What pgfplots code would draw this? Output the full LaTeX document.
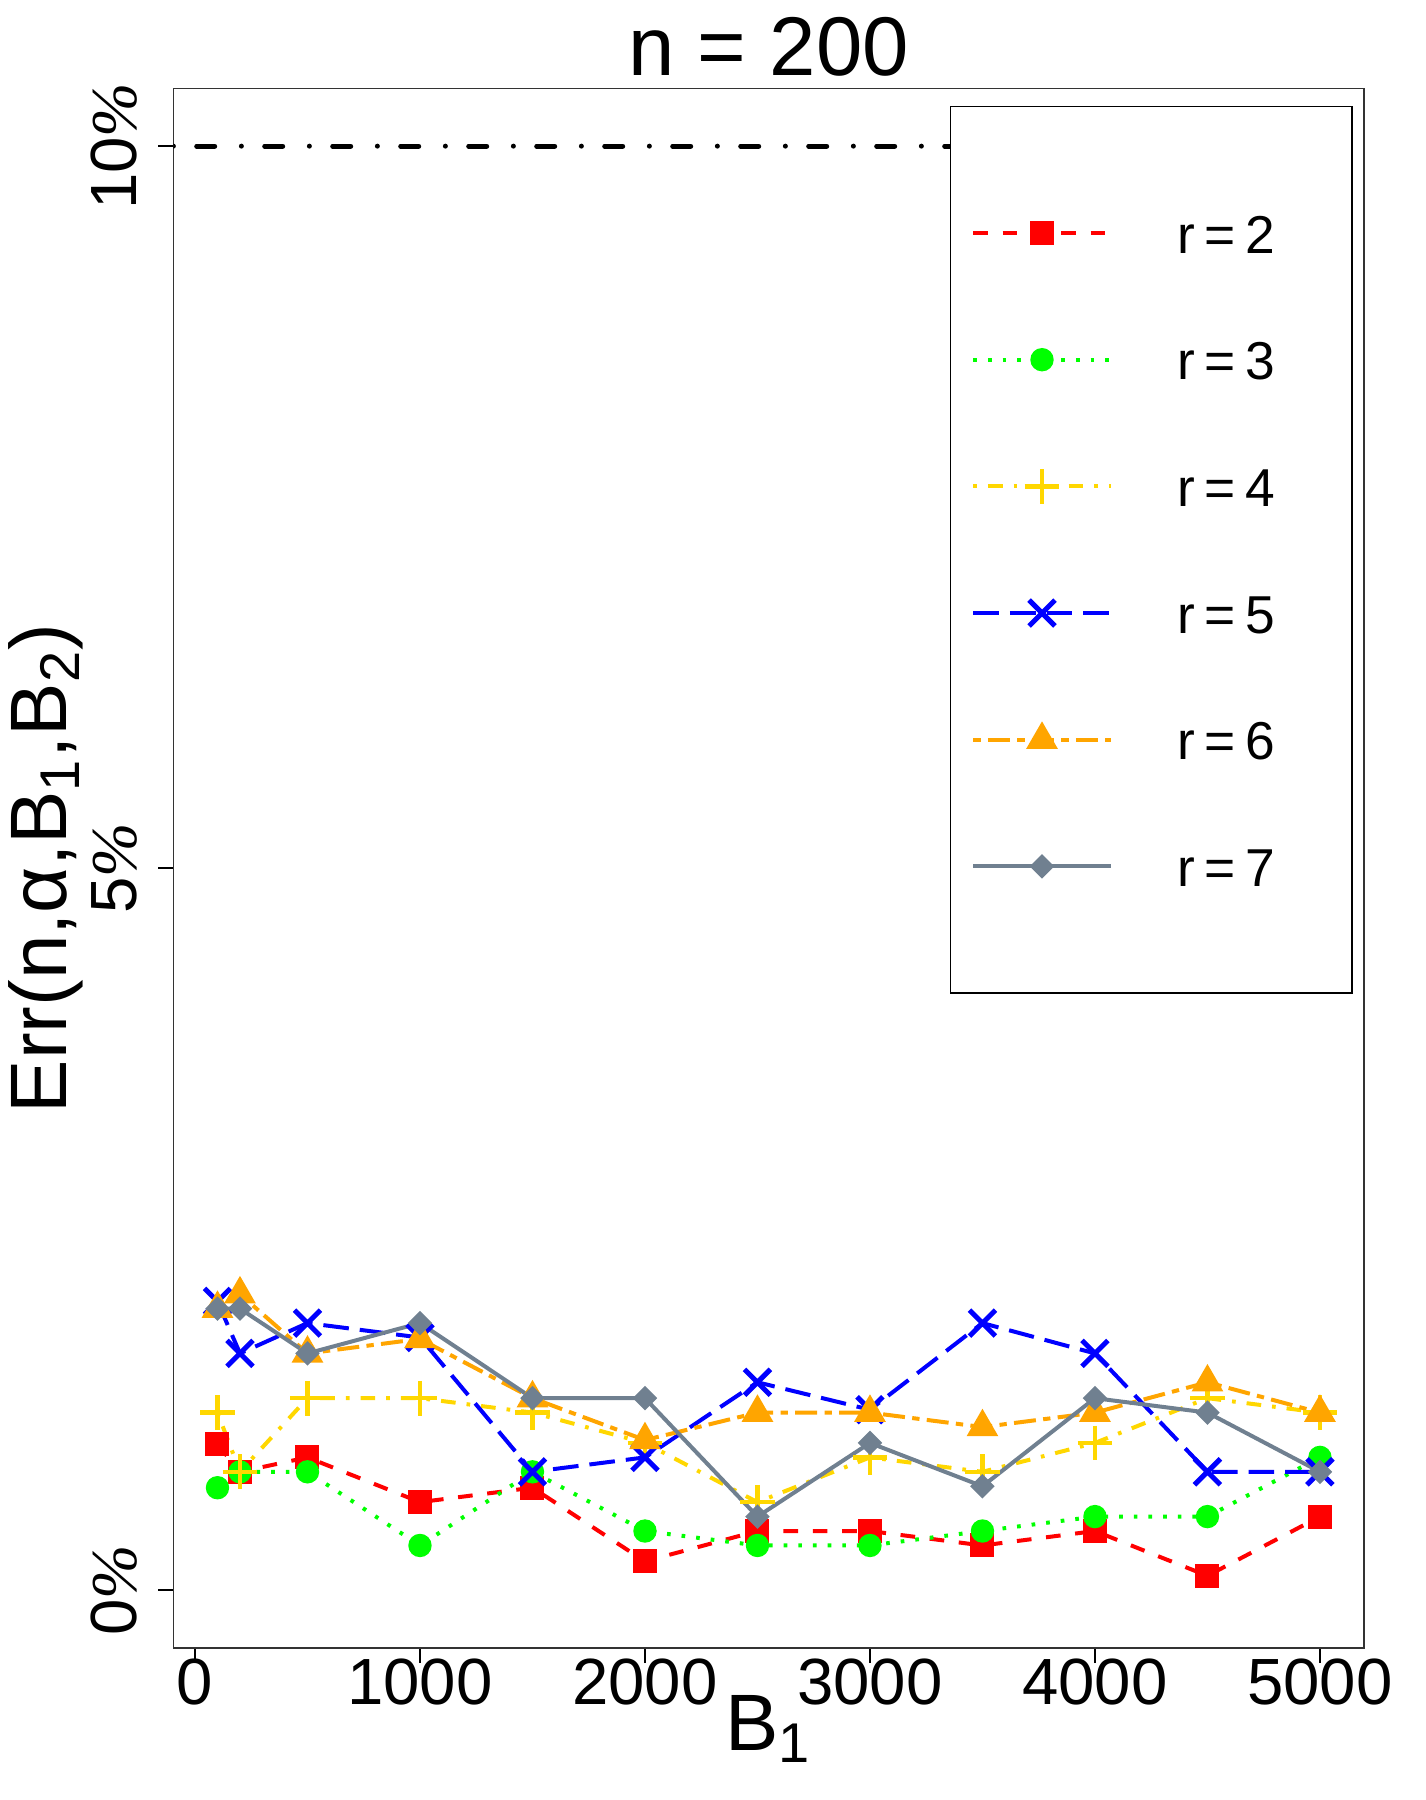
\documentclass[border=0pt]{standalone}
\usepackage{fontspec}
\setmainfont{Liberation Sans}
\newfontfamily\serifit{Liberation Serif}
\usepackage{pgfplots}
\pgfplotsset{compat=1.18}
\definecolor{cgold}{HTML}{FFD700}
\definecolor{cgreen}{HTML}{00FF00}
\definecolor{corange}{HTML}{FFA500}
\definecolor{cgrey}{HTML}{708090}
\newcommand\pct{{\serifit\itshape\%}}
\newcommand\req[1]{r\hspace{2.8pt}=\hspace{2.8pt}#1}
\begin{document}
\begin{tikzpicture}
\begin{axis}[name=ax, scale only axis, width=357.2pt, height=467.9pt,
  xmin=-96, xmax=5196, ymin=-0.4, ymax=10.4,
  xtick={0,1000,2000,3000,4000,5000}, xticklabels={0,1000,2000,3000,4000,5000},
  ytick={0,5,10}, yticklabels={{0\pct},{5\pct},{10\pct}},
  xtick pos=bottom, ytick pos=left,
  tick align=outside, major tick length=4.5pt,
  tick style={black, line width=0.5pt},
  axis line style={black!80, line width=0.5pt},
  ticklabel style={font=\fontsize{19.6}{20}\selectfont},
  xticklabel style={anchor=north, inner sep=0pt},
  yticklabel style={rotate=90, anchor=base, inner sep=0pt},
  yticklabel shift=6.5pt, xticklabel shift=-1.35pt,
  title={n = 200},
  title style={font=\fontsize{25}{25}\selectfont, at={(axis description cs:0.5,1)}, anchor=base, yshift=-2pt},
  xlabel={B\textsubscript{1}},
  xlabel style={font=\fontsize{24}{24}\selectfont, at={(axis description cs:0.5,-0.0654)}, anchor=base},
  ylabel={Err(n,α,B\textsubscript{1},B\textsubscript{2})},
  ylabel style={font=\fontsize{24}{24}\selectfont, at={(axis description cs:-0.0897,0.5)}, anchor=base},
  legend style={at={(axis description cs:0.652,0.989)}, anchor=north west, draw=black, fill=white,
    line width=0.5pt, inner xsep=6.2pt, inner ysep=32pt, row sep=26pt, column sep=19.5pt,
    font=\fontsize{16}{16}\selectfont,
    nodes={inner sep=0pt, text height=12pt, text depth=0pt, text width=46pt, align=left}},
  legend cell align=left,
  legend image code/.code={\draw[mark repeat=2, mark phase=2, #1] plot coordinates {(0pt,0pt) (20.65pt,0pt) (41.3pt,0pt)};},
]
\addplot[black, line width=1.5pt, line cap=round, dash pattern=on 0pt off 7pt on 5.4pt off 8pt, forget plot] coordinates {(-96,10) (3354,10)};

\addplot[red, line width=1.2pt, dash pattern=on 4.4pt off 4.4pt, mark=square*, mark size=3pt, mark options={solid}] coordinates {
(100,1.01) (200,0.82) (500,0.92) (1000,0.61) (1500,0.71) (2000,0.20) (2500,0.41) (3000,0.41) (3500,0.31) (4000,0.41) (4500,0.10) (5000,0.51)};
\addplot[cgreen, line width=1.2pt, dash pattern=on 1.1pt off 3.3pt, mark=*, mark size=2.9pt, mark options={solid}] coordinates {
(100,0.71) (200,0.82) (500,0.82) (1000,0.31) (1500,0.82) (2000,0.41) (2500,0.31) (3000,0.31) (3500,0.41) (4000,0.51) (4500,0.51) (5000,0.92)};
\addplot[cgold, line width=1.2pt, dash pattern=on 1.1pt off 3.3pt on 4.4pt off 3.3pt, mark=+, mark size=5.2pt, mark options={solid, line width=1.3pt}] coordinates {
(100,1.23) (200,0.82) (500,1.33) (1000,1.33) (1500,1.23) (2000,1.02) (2500,0.61) (3000,0.92) (3500,0.82) (4000,1.02) (4500,1.33) (5000,1.23)};
\addplot[blue, line width=1.2pt, dash pattern=on 7.7pt off 3.3pt, mark=x, mark size=5.5pt, mark options={solid, line width=1.5pt}] coordinates {
(100,2.00) (200,1.64) (500,1.85) (1000,1.75) (1500,0.82) (2000,0.92) (2500,1.44) (3000,1.25) (3500,1.85) (4000,1.64) (4500,0.82) (5000,0.82)};
\addplot[corange, line width=1.2pt, dash pattern=on 2.2pt off 2.2pt on 6.6pt off 2.2pt, mark=triangle*, mark size=4.3pt, mark options={solid}] coordinates {
(100,1.95) (200,2.05) (500,1.64) (1000,1.74) (1500,1.33) (2000,1.04) (2500,1.23) (3000,1.23) (3500,1.13) (4000,1.23) (4500,1.44) (5000,1.23)};
\addplot[cgrey, line width=1.2pt, mark=square*, mark size=2pt, mark options={solid, rotate=45}] coordinates {
(100,1.95) (200,1.95) (500,1.64) (1000,1.85) (1500,1.33) (2000,1.33) (2500,0.51) (3000,1.02) (3500,0.72) (4000,1.33) (4500,1.23) (5000,0.82)};
\legend{{\req{2}},{\req{3}},{\req{4}},{\req{5}},{\req{6}},{\req{7}}}
\end{axis}
\pgfresetboundingbox
\path ([shift={(-52.02pt,-45.6pt)}]ax.south west) rectangle ([shift={(18.3pt,26.52pt)}]ax.north east);
\end{tikzpicture}
\end{document}
